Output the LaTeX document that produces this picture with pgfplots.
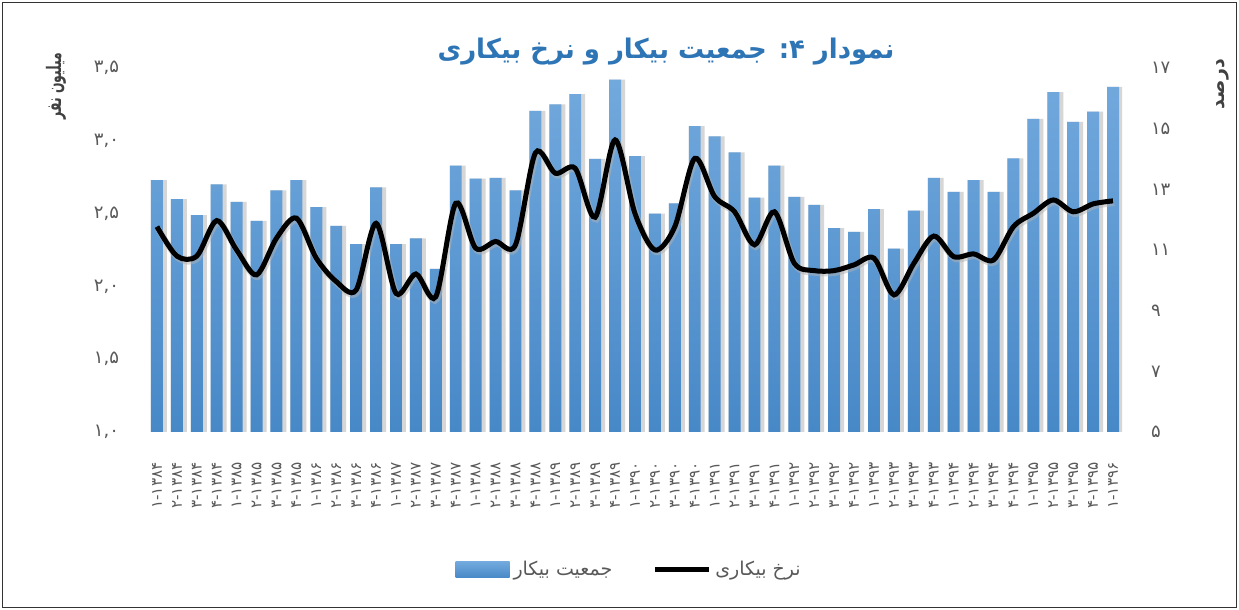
\documentclass[border=0pt]{standalone}
\usepackage{fontspec}
\setmainfont{DejaVu Sans}
\newfontfamily\arabicfont[Script=Arabic]{DejaVu Sans}
\usepackage{pgfplots}
\pgfplotsset{compat=1.18}
\TeXXeTstate=1
\definecolor{titleblue}{HTML}{2E75B6}
\definecolor{bartop}{HTML}{72A9DD}
\definecolor{barbot}{HTML}{4788C7}
\definecolor{txtgray}{HTML}{595959}
\definecolor{lblgray}{HTML}{404040}

\pgfplotstableread{
i pop rate
0 2.73 11.77
1 2.60 10.80
2 2.49 10.80
3 2.70 11.97
4 2.58 11.00
5 2.45 10.18
6 2.66 11.39
7 2.73 12.05
8 2.545 10.73
9 2.415 9.96
10 2.29 9.68
11 2.68 11.88
12 2.29 9.57
13 2.33 10.21
14 2.12 9.46
15 2.83 12.54
16 2.74 11.06
17 2.745 11.28
18 2.66 11.17
19 3.205 14.20
20 3.25 13.53
21 3.32 13.69
22 2.875 12.08
23 3.42 14.63
24 2.895 12.20
25 2.50 11.00
26 2.57 11.77
27 3.10 14.02
28 3.03 12.76
29 2.92 12.26
30 2.61 11.17
31 2.83 12.26
32 2.615 10.56
33 2.56 10.32
34 2.40 10.32
35 2.375 10.51
36 2.53 10.73
37 2.26 9.52
38 2.52 10.56
39 2.745 11.46
40 2.65 10.78
41 2.73 10.87
42 2.65 10.67
43 2.88 11.77
44 3.15 12.21
45 3.335 12.65
46 3.13 12.26
47 3.20 12.52
48 3.37 12.62
}\datatable

\begin{document}
\begin{tikzpicture}
\useasboundingbox (0,0) rectangle (619.5pt,305pt);
\fill[white] (0,0) rectangle (619.5pt,305pt);
\draw[black!80, line width=0.6pt] (1.3pt,1.3pt) rectangle (618.2pt,303.7pt);
\begin{axis}[
  at={(74pt,89pt)}, anchor=south west,
  scale only axis, width=487pt, height=182pt,
  xmin=-0.45, xmax=48.45, ymin=1, ymax=3.5,
  axis line style={draw=none}, major tick length=0pt,
  ytick={1,1.5,2,2.5,3,3.5},
  yticklabels={{۱,۰},{۱,۵},{۲,۰},{۲,۵},{۳,۰},{۳,۵}},
  yticklabel style={font=\fontsize{9}{10}\selectfont, text=txtgray, xshift=-11pt},
  xtick={0,...,48},
  xticklabels={۱-۱۳۸۴,۲-۱۳۸۴,۳-۱۳۸۴,۴-۱۳۸۴,۱-۱۳۸۵,۲-۱۳۸۵,۳-۱۳۸۵,۴-۱۳۸۵,۱-۱۳۸۶,۲-۱۳۸۶,۳-۱۳۸۶,۴-۱۳۸۶,۱-۱۳۸۷,۲-۱۳۸۷,۳-۱۳۸۷,۴-۱۳۸۷,۱-۱۳۸۸,۲-۱۳۸۸,۳-۱۳۸۸,۴-۱۳۸۸,۱-۱۳۸۹,۲-۱۳۸۹,۳-۱۳۸۹,۴-۱۳۸۹,۱-۱۳۹۰,۲-۱۳۹۰,۳-۱۳۹۰,۴-۱۳۹۰,۱-۱۳۹۱,۲-۱۳۹۱,۳-۱۳۹۱,۴-۱۳۹۱,۱-۱۳۹۲,۲-۱۳۹۲,۳-۱۳۹۲,۴-۱۳۹۲,۱-۱۳۹۳,۲-۱۳۹۳,۳-۱۳۹۳,۴-۱۳۹۳,۱-۱۳۹۴,۲-۱۳۹۴,۳-۱۳۹۴,۴-۱۳۹۴,۱-۱۳۹۵,۲-۱۳۹۵,۳-۱۳۹۵,۴-۱۳۹۵,۱-۱۳۹۶},
  xticklabel style={rotate=90, anchor=east, font=\fontsize{7.6}{9}\selectfont, text=txtgray, inner sep=0pt},
  xticklabel shift=15pt,
  legend style={at={(0.495,-0.379)}, anchor=center, draw=none, fill=none,
    legend columns=2, font=\arabicfont\fontsize{9.5}{11}\selectfont, text=txtgray,
    /tikz/every even column/.append style={column sep=18pt}},
]
\addplot[ybar, bar width=0.8, bar shift=1pt, fill=black!16, draw=none, forget plot] table[x=i, y=pop] {\datatable};
\addplot[ybar, bar width=0.6, bar shift=0pt, draw=none, top color=bartop, bottom color=barbot,
  legend image code/.code={\shade[top color=bartop, bottom color=barbot] (0pt,-4pt) rectangle (27pt,4pt);}] table[x=i, y=pop] {\datatable};
\addlegendentry{\beginR جمعیت بیکار\endR}
\addlegendimage{legend image code/.code={\draw[black, line width=2.5pt] (0pt,0pt) -- (27pt,0pt);}}
\addlegendentry{\beginR نرخ بیکاری\endR}
\end{axis}
\begin{axis}[
  at={(74pt,89pt)}, anchor=south west,
  scale only axis, width=487pt, height=182pt,
  xmin=-0.45, xmax=48.45, ymin=5, ymax=17,
  axis line style={draw=none}, major tick length=0pt,
  xtick=\empty,
  yticklabel pos=right,
  ytick={5,7,9,11,13,15,17},
  yticklabels={۵,۷,۹,۱۱,۱۳,۱۵,۱۷},
  yticklabel style={font=\fontsize{9}{10}\selectfont, text=txtgray, xshift=11pt},
]
\addplot[black!30, line width=3.2pt, smooth, tension=0.5, opacity=0.5, yshift=-1pt, xshift=0.6pt] table[x=i, y=rate] {\datatable};
\addplot[black, line width=2.5pt, smooth, tension=0.5] table[x=i, y=rate] {\datatable};
\end{axis}
\node[font=\arabicfont\bfseries\fontsize{13.5}{15}\selectfont, text=titleblue, xscale=0.96] at (333pt,279pt) {\beginR نمودار ۴:  جمعیت بیکار و نرخ بیکاری\endR};
\node[rotate=90, xscale=0.62, font=\arabicfont\bfseries\fontsize{10}{11}\selectfont, text=lblgray] at (28pt,262pt) {\beginR میلیون نفر\endR};
\node[rotate=90, font=\arabicfont\bfseries\fontsize{9.5}{11}\selectfont, text=lblgray] at (611.5pt,263pt) {\beginR درصد\endR};
\end{tikzpicture}
\end{document}
